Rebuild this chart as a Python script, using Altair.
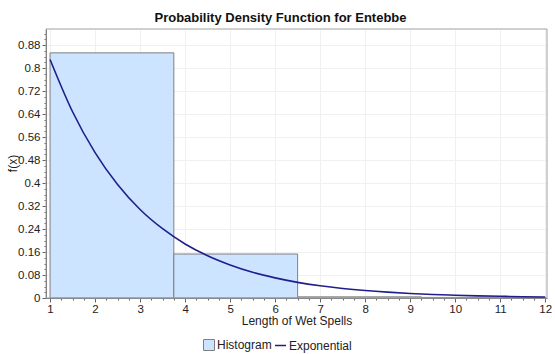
import altair as alt
import pandas as pd

# Histogram bins (length of wet spells) and densities
bin_start = [1.0, 3.75, 6.5, 9.25]
bin_end = [3.75, 6.5, 9.25, 12.0]
density = [0.853, 0.153, 0.004, 0.002]

# Fitted exponential curve
curve_x = [1, 1.5, 2, 2.5, 3, 3.5, 4, 4.5, 5, 5.5, 6, 6.5, 7, 7.5, 8, 8.5,
           9, 9.5, 10, 10.5, 11, 11.5, 12]
curve_y = [0.830, 0.648, 0.506, 0.395, 0.308, 0.241, 0.188, 0.147, 0.115,
           0.0895, 0.070, 0.0545, 0.0426, 0.0333, 0.026, 0.0203, 0.0158,
           0.0124, 0.0097, 0.0075, 0.0059, 0.0046, 0.0036]

x_ticks = [1, 2, 3, 4, 5, 6, 7, 8, 9, 10, 11, 12]
y_ticks = [0, 0.08, 0.16, 0.24, 0.32, 0.4, 0.48, 0.56, 0.64, 0.72, 0.8, 0.88]
x_minor = [1 + 0.25 * i for i in range(45)]
y_minor = [round(0.02 * i, 2) for i in range(47)]

hist = pd.DataFrame({"start": bin_start, "end": bin_end, "density": density,
                     "base": [0.0] * len(bin_start),
                     "h": ["Histogram"] * len(bin_start)})
curve = pd.DataFrame({"x": curve_x, "y": curve_y, "c": ["Exponential"] * len(curve_x)})

FONT = "Liberation Sans"
xs = alt.Scale(domain=[0.91, 12.04], nice=False, zero=False)
ys = alt.Scale(domain=[0, 0.936], nice=False)

bars = alt.Chart(hist).mark_rect(stroke="#7f7f7f", strokeWidth=1, opacity=1).encode(
    x=alt.X("start:Q", scale=xs, axis=alt.Axis(
        values=x_ticks, title="Length of Wet Spells", grid=True, gridColor="#f0f0f0",
        labelFontSize=11.5, titleFontSize=12, titlePadding=1, labelPadding=1,
        tickSize=4, format="d")),
    x2="end:Q",
    y=alt.Y("density:Q", scale=ys, axis=alt.Axis(
        values=y_ticks, title="f(x)", grid=True, gridColor="#f0f0f0",
        labelFontSize=11.5, titleFontSize=12, tickSize=4, labelPadding=2,
        titleX=-34, titleY=134, titleAngle=270, titleBaseline="middle", titleAlign="center",
        labelExpr="datum.value == 0 ? '0' : format(datum.value, '.2~f')")),
    y2="base:Q",
    fill=alt.Fill("h:N", scale=alt.Scale(domain=["Histogram"], range=["#cce4ff"]),
                  legend=alt.Legend(title=None, orient="none", legendX=157, legendY=310,
                                    symbolType="square", symbolSize=121,
                                    symbolStrokeColor="#7f7f7f", symbolStrokeWidth=1,
                                    labelFontSize=12, padding=0, labelOffset=2)),
)

line = alt.Chart(curve).mark_line(strokeWidth=1.6, interpolate="monotone").encode(
    x=alt.X("x:Q", scale=xs, axis=alt.Axis(
        orient="bottom", values=x_minor, labels=False, title=None, grid=False,
        domain=False, tickSize=2)),
    y=alt.Y("y:Q", scale=ys, axis=alt.Axis(
        orient="left", values=y_minor, labels=False, title=None, grid=False,
        domain=False, tickSize=2)),
    stroke=alt.Stroke("c:N", scale=alt.Scale(domain=["Exponential"], range=["#1f1f8c"]),
                      legend=alt.Legend(title=None, orient="none", legendX=228, legendY=310,
                                        symbolType="stroke", symbolSize=120,
                                        symbolStrokeWidth=1.5, labelFontSize=12,
                                        padding=0, labelOffset=2)),
)

frame = alt.Chart(pd.DataFrame({"a": [0]})).mark_rect(
    fill=None, stroke="#a0a0a0", strokeWidth=1
).encode(x=alt.value(0), x2=alt.value(501), y=alt.value(0), y2=alt.value(269))

chart = alt.layer(bars, frame, line).resolve_axis(x="independent", y="independent").resolve_scale(
    x="shared", y="shared"
).properties(
    width=501, height=269,
    title=alt.TitleParams("Probability Density Function for Entebbe", fontSize=13,
                          fontWeight="bold", font=FONT, color="#111111", dx=-16, offset=4),
    autosize=alt.AutoSizeParams(type="none"),
    padding={"left": 46, "top": 29, "right": 8, "bottom": 56},
).configure(font=FONT, background="white").configure_view(stroke=None).configure_axis(
    labelColor="#222222", titleColor="#222222", domainColor="#666666", tickColor="#666666",
    labelFont=FONT, titleFont=FONT, titleFontWeight="normal"
).configure_legend(labelColor="#222222", labelFont=FONT)

chart.save("out.html", embed_options={"renderer": "svg", "actions": False})
